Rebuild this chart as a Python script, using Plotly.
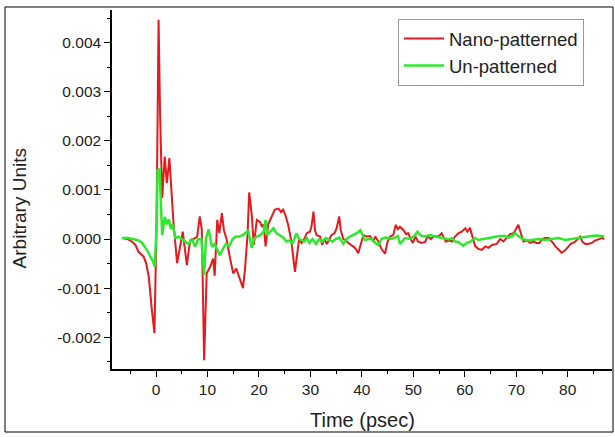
import plotly.graph_objects as go

# Nano-patterned (red), values in units of 1e-3
t_nano = [-6.6, -5.5, -4.7, -4.0, -3.4, -2.9, -2.4, -1.9, -1.4, -0.8, -0.3, 0.1, 0.5, 0.8, 1.2, 1.7,
          2.1, 2.6, 3.0, 3.4, 4.1, 4.7, 5.2, 5.6, 6.0, 6.4, 6.7, 7.3, 8.0, 8.5, 8.9, 9.35, 9.85, 10.5,
          11.1, 11.4, 11.9, 12.3, 12.8, 13.2, 13.7, 14.4, 15.0, 15.6, 16.3, 16.9, 17.3, 17.8, 18.1,
          18.6, 19.0, 19.6, 20.2, 20.6, 20.9, 21.3, 21.8, 22.5, 23.1, 23.8, 24.3, 24.7, 25.1, 25.7,
          26.3, 27.0, 27.5, 27.8, 28.3, 28.8, 29.3, 29.9, 30.2, 30.6, 30.9, 31.2, 31.9, 32.3, 32.7,
          33.2, 34.1, 34.7, 35.1, 35.6, 35.9, 36.4, 37.0, 37.7, 38.4, 38.8, 39.3, 39.8, 40.3, 40.9,
          41.6, 42.2, 42.6, 43.2, 43.8, 44.5, 45.0, 45.5, 46.1, 46.6, 47.0, 47.4, 48.1, 48.6, 49.0,
          49.5, 49.9, 50.4, 50.9, 51.6, 52.3, 52.8, 53.4, 54.0, 54.9, 55.5, 56.3, 57.0, 57.5, 58.1,
          58.8, 59.4, 60.1, 60.5, 61.0, 61.4, 62.0, 62.6, 63.3, 64.0, 64.6, 65.3, 66.2, 66.9, 67.5,
          68.2, 68.8, 69.5, 69.9, 70.4, 70.8, 71.4, 72.0, 72.7, 73.3, 73.9, 74.5, 75.0, 75.6, 76.3,
          76.9, 77.6, 78.3, 78.8, 79.4, 80.0, 80.6, 81.4, 82.0, 82.4, 82.8, 83.4, 84.0, 84.7, 85.3,
          86.0, 86.6, 87.1]
y_nano = [0.02, 0.0, -0.05, -0.12, -0.26, -0.32, -0.36, -0.5, -0.77, -1.45, -1.92, 0.3, 4.47, 2.5, 0.84, 1.68,
          1.14, 1.65, 1.0, 0.33, -0.49, -0.1, 0.15, -0.2, -0.53, -0.2, -0.02, 0.0, 0.05, 0.46, 0.2, -2.47, -0.7, -0.57,
          -0.4, -0.75, 0.39, 0.12, 0.53, 0.18, 0.0, -0.4, -0.7, -0.6, -0.8, -1.0, -0.6, 0.1, 0.95,
          0.5, -0.12, 0.39, 0.35, 0.25, 0.3, -0.15, 0.3, 0.48, 0.6, 0.62, 0.55, 0.6, 0.5, 0.28,
          -0.05, -0.67, -0.22, 0.0, -0.08, 0.0, 0.12, 0.15, 0.25, 0.56, 0.18, 0.08, 0.05, -0.12, 0.0,
          -0.1, 0.08, 0.12, 0.22, 0.46, 0.18, 0.0, -0.05, -0.1, -0.16, -0.2, -0.29, -0.1, 0.08, 0.05,
          0.06, -0.05, 0.05, -0.05, -0.2, -0.3, -0.05, 0.05, 0.08, 0.29, 0.2, 0.25, 0.18, 0.1, 0.12,
          0.0, -0.08, 0.05, -0.05, -0.08, -0.06, 0.06, 0.0, 0.06, 0.05, 0.12, -0.05, -0.03, -0.05, 0.05,
          0.12, 0.15, 0.22, 0.15, 0.23, 0.08, -0.14, -0.2, -0.22, -0.15, -0.18, -0.12, -0.1, 0.0, -0.05,
          0.03, 0.1, 0.12, 0.2, 0.29, 0.15, -0.05, -0.03, -0.08, -0.05, -0.08, -0.08, 0.0, 0.02, 0.02,
          -0.05, -0.15, -0.22, -0.28, -0.24, -0.18, -0.1, -0.06, 0.0, 0.05, -0.05, -0.1, -0.1, -0.08, -0.03,
          0.0, 0.02, 0.0]

# Un-patterned (green), values in units of 1e-3
t_un = [-6.6, -5.5, -4.5, -3.4, -2.7, -2.1, -1.6, -1.1, -0.6, -0.25, 0.1, 0.3, 0.7, 1.0, 1.2, 1.7, 2.1,
        2.5, 2.9, 3.2, 3.8, 4.4, 5.0, 5.6, 6.3, 7.0, 7.6, 8.2, 8.8, 9.35, 9.7, 10.2, 10.6, 10.9, 11.4,
        11.9, 12.4, 13.0, 13.6, 14.2, 14.9, 15.5, 16.2, 16.8, 17.4, 17.9, 18.6, 19.0, 19.6, 20.3, 20.9,
        21.3, 21.6, 22.2, 22.8, 23.4, 24.1, 24.7, 25.4, 26.0, 26.5, 26.9, 27.3, 27.8, 28.3, 28.8, 29.3,
        29.8, 30.4, 31.1, 31.7, 32.3, 33.0, 33.6, 34.3, 34.9, 35.6, 36.4, 37.0, 37.7, 38.4, 39.0, 39.7,
        40.1, 40.6, 41.3, 41.9, 42.6, 43.2, 43.8, 44.5, 45.1, 45.8, 46.4, 47.0, 47.4, 48.4, 49.3, 50.2,
        50.8, 51.5, 52.2, 53.3, 54.3, 55.3, 56.2, 57.0, 57.5, 58.1, 58.6, 59.1, 59.7, 60.4, 61.0, 62.0,
        62.6, 63.6, 64.6, 65.6, 66.8, 67.8, 68.5, 69.2, 69.8, 70.4, 71.3, 72.2, 73.2, 74.5, 75.6, 76.9,
        78.2, 79.5, 80.8, 82.0, 83.4, 84.6, 85.6, 86.6, 87.1]
y_un = [0.02, 0.02, 0.0, -0.03, -0.08, -0.16, -0.25, -0.36, -0.45, -0.56, 0.2, 1.4, 1.42, 0.6, 0.08, 0.45, 0.3,
        0.4, 0.2, 0.3, 0.02, 0.05, 0.0, -0.05, -0.1, 0.0, -0.16, 0.0, 0.0, -0.73, 0.0, 0.2, 0.0, -0.16, -0.1,
        -0.2, -0.33, -0.2, -0.1, -0.15, 0.0, 0.05, 0.05, 0.08, 0.12, 0.18, -0.18, 0.0, 0.05, 0.08, 0.15,
        0.39, 0.08, 0.15, 0.22, 0.12, 0.08, 0.03, -0.05, -0.03, -0.1, 0.03, 0.12, 0.0, -0.03, -0.05, 0.02,
        -0.08, 0.0, -0.1, 0.0, -0.05, 0.02, -0.02, -0.05, 0.0, 0.03, -0.1, 0.0, 0.05, 0.08, 0.12, 0.18,
        0.08, -0.02, 0.0, 0.0, -0.08, -0.12, 0.0, 0.03, 0.02, 0.0, 0.03, 0.06, -0.1, 0.02, 0.0, 0.06,
        0.15, 0.07, 0.05, 0.08, 0.05, 0.03, 0.0, -0.01, 0.02, -0.05, -0.06, -0.08, -0.14, -0.08, -0.06, 0.02,
        -0.02, 0.0, 0.02, 0.04, 0.06, 0.06, 0.03, 0.06, 0.12, 0.06, 0.0, -0.03, -0.02, 0.0, -0.02, 0.0,
        0.02, -0.02, 0.0, 0.03, 0.04, 0.06, 0.07, 0.06, 0.05]

y_ticks = [-0.002, -0.001, 0.0, 0.001, 0.002, 0.003, 0.004]
y_labels = ["-0.002", "-0.001", "0.000", "0.001", "0.002", "0.003", "0.004"]

fig = go.Figure()
fig.add_trace(go.Scatter(x=t_nano, y=[v * 1e-3 for v in y_nano], mode="lines", name="Nano-patterned",
                         line=dict(color="#e41a1c", width=2)))
fig.add_trace(go.Scatter(x=t_un, y=[v * 1e-3 for v in y_un], mode="lines", name="Un-patterned",
                         line=dict(color="#2ee82e", width=2.5)))

axis_font = dict(family="Liberation Sans, Arial", size=15.5, color="#222")
fig.update_layout(
    width=615, height=437,
    margin=dict(l=112, r=3, t=10, b=68),
    paper_bgcolor="white", plot_bgcolor="white",
    font=dict(family="Liberation Sans, Arial", color="#222"),
    legend=dict(x=0.572, y=0.975, xanchor="left", yanchor="top",
                bordercolor="#999", borderwidth=1, bgcolor="white",
                font=dict(size=18.5), tracegroupgap=0, itemwidth=40),
    xaxis=dict(range=[-8.55, 88.6], showgrid=False, zeroline=False,
               showline=True, linecolor="black", linewidth=1.5,
               ticks="outside", ticklen=6, tickcolor="black", dtick=10, tick0=0,
               minor=dict(dtick=5, ticks="outside", ticklen=3, tickcolor="black"),
               tickfont=axis_font),
    yaxis=dict(range=[-0.00265, 0.00467], showgrid=False, zeroline=False,
               showline=True, linecolor="black", linewidth=1.5,
               ticks="outside", ticklen=6, tickcolor="black",
               tickvals=y_ticks, ticktext=y_labels,
               minor=dict(dtick=0.0005, tick0=0, ticks="outside", ticklen=3, tickcolor="black"),
               tickfont=axis_font),
    annotations=[
        dict(text="Time (psec)", xref="paper", yref="paper", x=0.5, y=-0.142,
             xanchor="center", yanchor="middle", showarrow=False, font=dict(size=20)),
        dict(text="Arbitrary Units", xref="paper", yref="paper", x=-0.185, y=0.446,
             xanchor="center", yanchor="middle", textangle=-90, showarrow=False, font=dict(size=19)),
    ],
    shapes=[dict(type="rect", xref="paper", yref="paper",
                 x0=-0.214, x1=1.002, y0=-0.1755, y1=1.0084,
                 line=dict(color="black", width=1))],
)

fig.write_html("out.html", config={"displayModeBar": False},
               post_script="document.body.style.margin='0';")
